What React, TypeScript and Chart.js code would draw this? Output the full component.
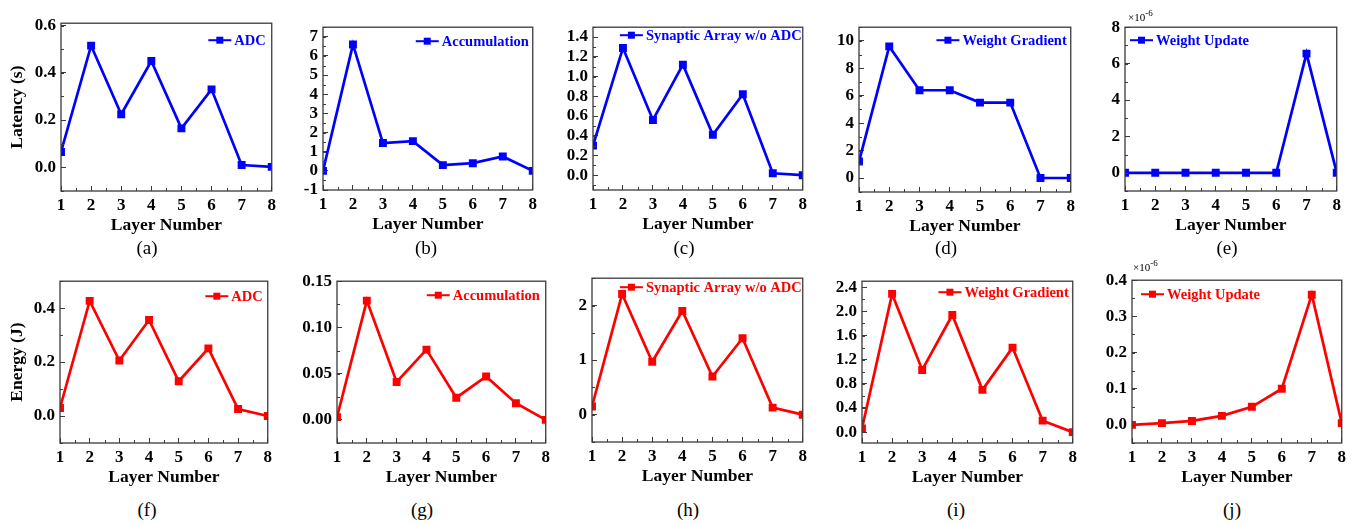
import React, { useEffect, useRef } from 'react';
import { Chart, registerables } from 'chart.js';

Chart.register(...registerables);

// ---------- data ----------
const layers = [1, 2, 3, 4, 5, 6, 7, 8];

const latencyADC = [0.065, 0.515, 0.225, 0.45, 0.165, 0.33, 0.01, 0.002];
const latencyAccumulation = [0.0, 6.6, 1.45, 1.55, 0.3, 0.4, 0.75, 0.0];
const latencySynaptic = [0.3, 1.29, 0.56, 1.12, 0.41, 0.82, 0.02, 0.0];
const latencyWeightGradient = [1.2, 9.6, 6.4, 6.4, 5.5, 5.5, 0.0, 0.0];
const latencyWeightUpdate = [0, 0, 0, 0, 0, 0, 6.55, 0]; // ×10^-6 s

const energyADC = [0.03, 0.427, 0.206, 0.356, 0.129, 0.251, 0.026, 0.0];
const energyAccumulation = [0.003, 0.129, 0.041, 0.076, 0.024, 0.047, 0.018, 0.0];
const energySynaptic = [0.15, 2.21, 0.97, 1.9, 0.7, 1.4, 0.13, 0.0];
const energyWeightGradient = [0.06, 2.29, 1.03, 1.94, 0.7, 1.4, 0.19, 0.0];
const energyWeightUpdate = [0.0, 0.005, 0.011, 0.025, 0.05, 0.1, 0.36, 0.005]; // ×10^-6 J

const seriesNames = ['ADC', 'Accumulation', 'Synaptic Array w/o ADC', 'Weight Gradient', 'Weight Update'];
const captions = ['(a)', '(b)', '(c)', '(d)', '(e)', '(f)', '(g)', '(h)', '(i)', '(j)'];

const xTicks = [1, 2, 3, 4, 5, 6, 7, 8];
const yTicksA = [0, 0.2, 0.4, 0.6];
const yTicksB = [-1, 0, 1, 2, 3, 4, 5, 6, 7];
const yTicksC = [0, 0.2, 0.4, 0.6, 0.8, 1.0, 1.2, 1.4];
const yTicksD = [0, 2, 4, 6, 8, 10];
const yTicksE = [0, 2, 4, 6, 8];
const yTicksF = [0, 0.2, 0.4];
const yTicksG = [0, 0.05, 0.1, 0.15];
const yTicksH = [0, 1, 2];
const yTicksI = [0, 0.4, 0.8, 1.2, 1.6, 2.0, 2.4];
const yTicksJ = [0, 0.1, 0.2, 0.3, 0.4];

const xAxisTitle = 'Layer Number';
const latencyTitle = 'Latency (s)';
const energyTitle = 'Energy (J)';
const scaleNote = '×10';
const scaleExp = '-6';

// ---------- styling ----------
const BLUE = '#0000FF';
const RED = '#FF0000';
const FRAME = '#3a3a3a';
const SERIF = '"Liberation Serif", "Times New Roman", serif';

const TOP_PAD = 12;
const RIGHT_PAD = 10;
const X_AXIS_H = 48;

type Panel = {
  values: number[];
  name: string;
  color: string;
  yTicks: number[];
  yMin: number;
  yMax: number;
  minor: number;
  dec: number;
  plot: [number, number, number, number]; // left, top, right, bottom
  yW: number;
  yTitle?: string;
  legend: { align: 'left' | 'right'; dx: number; dy: number };
  caption: string;
  cap: [number, number];
  expo?: [number, number];
};

const panels: Panel[] = [
  { values: latencyADC, name: seriesNames[0], color: BLUE, yTicks: yTicksA, yMin: -0.1, yMax: 0.61, minor: 0.1, dec: 1,
    plot: [61, 15, 275, 191], yW: 61, yTitle: latencyTitle, legend: { align: 'right', dx: 6, dy: 17 }, caption: captions[0], cap: [147, 248] },
  { values: latencyAccumulation, name: seriesNames[1], color: BLUE, yTicks: yTicksB, yMin: -1, yMax: 7.5, minor: 0.5, dec: 0,
    plot: [323, 19, 536, 190], yW: 50, legend: { align: 'right', dx: 4, dy: 14 }, caption: captions[1], cap: [426, 248] },
  { values: latencySynaptic, name: seriesNames[2], color: BLUE, yTicks: yTicksC, yMin: -0.15, yMax: 1.5, minor: 0.1, dec: 1,
    plot: [593, 19, 806, 190], yW: 50, legend: { align: 'right', dx: 1, dy: 8 }, caption: captions[2], cap: [684, 248] },
  { values: latencyWeightGradient, name: seriesNames[3], color: BLUE, yTicks: yTicksD, yMin: -1.02, yMax: 11, minor: 1, dec: 0,
    plot: [859, 19, 1074, 192], yW: 50, legend: { align: 'right', dx: 4, dy: 13 }, caption: captions[3], cap: [946, 248] },
  { values: latencyWeightUpdate, name: seriesNames[4], color: BLUE, yTicks: yTicksE, yMin: -1, yMax: 8, minor: 1, dec: 0,
    plot: [1125, 19, 1340, 191], yW: 50, legend: { align: 'left', dx: 5, dy: 13 }, caption: captions[4], cap: [1227, 248], expo: [1128, 13] },
  { values: energyADC, name: seriesNames[0], color: RED, yTicks: yTicksF, yMin: -0.1, yMax: 0.5, minor: 0.1, dec: 1,
    plot: [60, 273, 271, 443], yW: 60, yTitle: energyTitle, legend: { align: 'right', dx: 5, dy: 15 }, caption: captions[5], cap: [147, 510] },
  { values: energyAccumulation, name: seriesNames[1], color: RED, yTicks: yTicksG, yMin: -0.025, yMax: 0.15, minor: 0.025, dec: 2,
    plot: [337, 273, 549, 443], yW: 50, legend: { align: 'right', dx: 6, dy: 14 }, caption: captions[6], cap: [422, 510] },
  { values: energySynaptic, name: seriesNames[2], color: RED, yTicks: yTicksH, yMin: -0.5, yMax: 2.5, minor: 0.5, dec: 0,
    plot: [592, 270, 806, 442], yW: 50, legend: { align: 'right', dx: 1, dy: 9 }, caption: captions[7], cap: [688, 510] },
  { values: energyWeightGradient, name: seriesNames[3], color: RED, yTicks: yTicksI, yMin: -0.18, yMax: 2.5, minor: 0.2, dec: 1,
    plot: [862, 273, 1076, 443], yW: 50, legend: { align: 'right', dx: 4, dy: 11 }, caption: captions[8], cap: [956, 510] },
  { values: energyWeightUpdate, name: seriesNames[4], color: RED, yTicks: yTicksJ, yMin: -0.05, yMax: 0.4, minor: 0.05, dec: 1,
    plot: [1132, 272, 1345, 443], yW: 50, legend: { align: 'left', dx: 9, dy: 14 }, caption: captions[9], cap: [1232, 510], expo: [1133, 263] },
];

// ---------- plugins ----------
const framePlugin = {
  id: 'frameAndMinor',
  afterDraw(chart: any, _args: any, opts: any) {
    const { ctx, chartArea } = chart;
    const xs = chart.scales.x;
    const ys = chart.scales.y;
    ctx.save();
    ctx.strokeStyle = FRAME;
    ctx.lineWidth = 1.3;
    ctx.strokeRect(chartArea.left, chartArea.top, chartArea.right - chartArea.left, chartArea.bottom - chartArea.top);
    ctx.lineWidth = 1;
    ctx.beginPath();
    for (let v = xs.min + 0.5; v < xs.max; v += 1) {
      const px = Math.round(xs.getPixelForValue(v)) + 0.5;
      ctx.moveTo(px, chartArea.bottom);
      ctx.lineTo(px, chartArea.bottom - 3);
    }
    const m = opts.minor;
    for (let k = Math.ceil(ys.min / m - 1e-6); k * m <= ys.max + 1e-9; k++) {
      const py = Math.round(ys.getPixelForValue(k * m)) + 0.5;
      ctx.moveTo(chartArea.left, py);
      ctx.lineTo(chartArea.left + 3, py);
    }
    ctx.stroke();
    ctx.restore();
  },
};

const legendPlugin = {
  id: 'insideLegend',
  afterDatasetsDraw(chart: any, _args: any, opts: any) {
    const { ctx, chartArea } = chart;
    const ds = chart.data.datasets[0];
    ctx.save();
    ctx.font = `bold 14.5px ${SERIF}`;
    const tw = ctx.measureText(ds.label).width;
    const lineLen = 23;
    const gap = 3;
    const x0 = opts.align === 'right'
      ? chartArea.right - opts.dx - tw - gap - lineLen
      : chartArea.left + opts.dx;
    const y = chartArea.top + opts.dy;
    ctx.strokeStyle = ds.borderColor;
    ctx.fillStyle = ds.borderColor;
    ctx.lineWidth = 2;
    ctx.beginPath();
    ctx.moveTo(x0, y);
    ctx.lineTo(x0 + lineLen, y);
    ctx.stroke();
    ctx.fillRect(x0 + lineLen / 2 - 3.5, y - 3.5, 7, 7);
    ctx.textBaseline = 'middle';
    ctx.textAlign = 'left';
    ctx.fillText(ds.label, x0 + lineLen + gap, y + 1);
    ctx.restore();
  },
};

function ChartPanel({ p }: { p: Panel }) {
  const ref = useRef<HTMLCanvasElement | null>(null);
  const [L, T, R, B] = p.plot;
  const width = p.yW + (R - L) + RIGHT_PAD;
  const height = TOP_PAD + (B - T) + X_AXIS_H;
  const left = L - p.yW;
  const top = T - TOP_PAD;

  useEffect(() => {
    if (!ref.current) return;
    const tickFont = { family: SERIF, size: 17, weight: 'bold' as const };
    const titleFont = { family: SERIF, size: 17.5, weight: 'bold' as const };
    const chart = new Chart(ref.current, {
      type: 'line',
      data: {
        datasets: [
          {
            label: p.name,
            data: layers.map((x, i) => ({ x, y: p.values[i] })),
            borderColor: p.color,
            backgroundColor: p.color,
            borderWidth: 2.7,
            pointStyle: 'rect',
            pointRadius: 5.6,
            pointBorderWidth: 0,
            pointHoverRadius: 5.6,
            tension: 0,
            clip: 0,
          } as any,
        ],
      },
      options: {
        responsive: false,
        animation: false,
        events: [],
        layout: { padding: { top: TOP_PAD, right: RIGHT_PAD, left: 0, bottom: 0 } },
        plugins: {
          legend: { display: false },
          tooltip: { enabled: false },
          insideLegend: p.legend,
          frameAndMinor: { minor: p.minor },
        } as any,
        scales: {
          x: {
            type: 'linear',
            min: 1,
            max: 8,
            afterBuildTicks: (s: any) => { s.ticks = xTicks.map((v) => ({ value: v })); },
            afterFit: (s: any) => { s.height = X_AXIS_H; },
            ticks: { font: tickFont, color: '#000', padding: 9, maxRotation: 0, autoSkip: false, callback: (v: any) => String(v) },
            grid: { drawOnChartArea: false, tickLength: -5, color: FRAME, lineWidth: 1 },
            border: { display: false },
            title: { display: true, text: xAxisTitle, font: titleFont, color: '#000', padding: { top: 0, bottom: 3 } },
          },
          y: {
            type: 'linear',
            min: p.yMin,
            max: p.yMax,
            afterBuildTicks: (s: any) => { s.ticks = p.yTicks.map((v) => ({ value: v })); },
            afterFit: (s: any) => { s.width = p.yW; },
            ticks: { font: tickFont, color: '#000', padding: 10, autoSkip: false, callback: (v: any) => Number(v).toFixed(p.dec) },
            grid: { drawOnChartArea: false, tickLength: -5, color: FRAME, lineWidth: 1 },
            border: { display: false },
            title: { display: !!p.yTitle, text: p.yTitle || '', font: titleFont, color: '#000', padding: { top: 7, bottom: 0 } },
          },
        },
      } as any,
      plugins: [framePlugin, legendPlugin] as any,
    });
    return () => chart.destroy();
  }, []);

  return (
    <div style={{ position: 'absolute', left, top, width, height }}>
      <canvas ref={ref} width={width} height={height} style={{ display: 'block', width, height }} />
    </div>
  );
}

export default function App() {
  return (
    <div style={{ position: 'absolute', left: 0, top: 0, width: 1361, height: 524, background: '#fff', overflow: 'hidden' }}>
      {panels.map((p, i) => (
        <ChartPanel key={i} p={p} />
      ))}
      {panels.map((p, i) => (
        <div
          key={'c' + i}
          style={{
            position: 'absolute', left: p.cap[0] - 40, width: 80, top: p.cap[1] - 12, height: 24, lineHeight: '24px',
            textAlign: 'center', fontFamily: SERIF, fontSize: 19, color: '#000',
          }}
        >
          {p.caption}
        </div>
      ))}
      {panels.filter((p) => p.expo).map((p, i) => (
        <div
          key={'e' + i}
          style={{
            position: 'absolute', left: p.expo![0], top: p.expo![1] - 8, height: 16, lineHeight: '16px',
            fontFamily: SERIF, fontSize: 11, color: '#000', whiteSpace: 'nowrap',
          }}
        >
          {scaleNote}
          <sup style={{ fontSize: 9 }}>{scaleExp}</sup>
        </div>
      ))}
    </div>
  );
}
